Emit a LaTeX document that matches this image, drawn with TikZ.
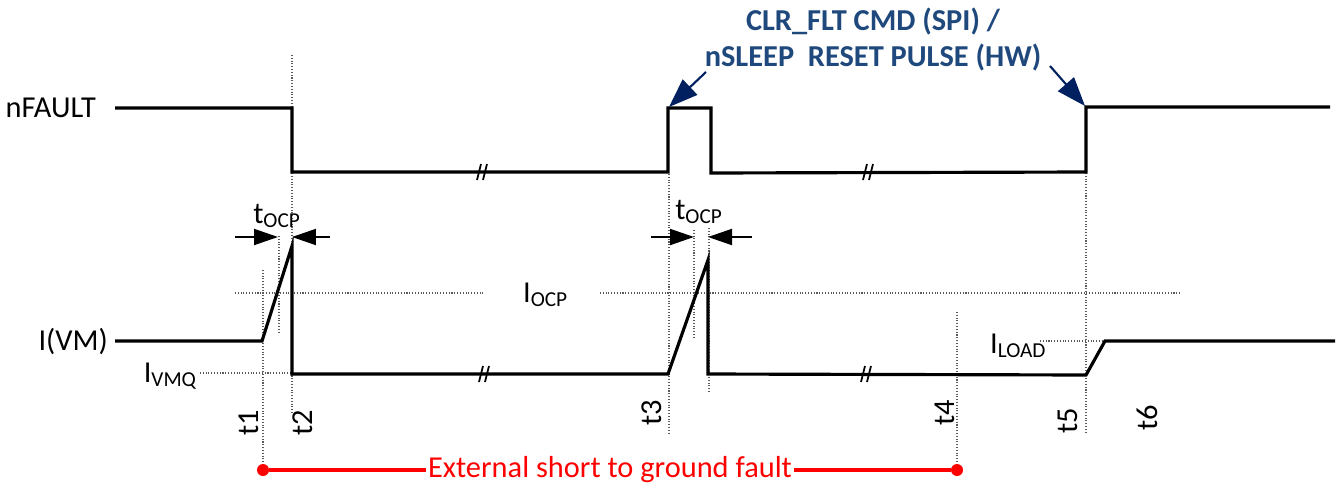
\documentclass[tikz,border=0pt]{standalone}
\usepackage{fontspec}
\setmainfont{Carlito}
\usetikzlibrary{arrows.meta,positioning}
\definecolor{notenavy}{RGB}{31,73,125}
\definecolor{arrownavy}{RGB}{0,32,96}
\definecolor{faultred}{RGB}{255,0,0}
\definecolor{guidegray}{RGB}{90,90,90}

\begin{document}
\begin{tikzpicture}[x=0.02cm,y=-0.02cm,>=Latex,
  font=\fontsize{17.3}{20.5}\selectfont,
  trace/.style={line width=1.8pt,line join=miter},
  guide/.style={guidegray,densely dotted,line width=0.6pt},
  brk/.style={line width=1pt},
  tlabel/.style={rotate=90,inner sep=1pt},
  sig/.style={inner sep=1pt},
  span/.style={-{Triangle[length=0.48cm,width=0.32cm]},line width=1.1pt},
  callout/.style={-{Triangle[length=0.58cm,width=0.42cm]},arrownavy,line width=1.2pt}]
  \useasboundingbox (0,0) rectangle (1338,487);

  % dotted guide lines
  \draw[guide] (292,55) -- (292,414);
  \draw[guide] (263,270) -- (263,470);
  \draw[guide] (279,236) -- (279,333);
  \draw[guide] (669,174) -- (669,435);
  \draw[guide] (694,230) -- (694,338);
  \draw[guide] (709,228) -- (709,392);
  \draw[guide] (957,312) -- (957,470);
  \draw[guide] (1086,173) -- (1086,432);
  \draw[guide] (235,293) -- (485,293);
  \draw[guide] (600,293) -- (1180,293);
  \draw[guide] (200,373) -- (292,373);
  \draw[guide] (1040,341) -- (1105,341);

  % waveforms
  \draw[trace] (115,108) -- (292,108) -- (292,172) -- (668,172) -- (668,108)
    -- (711,108) -- (711,173) -- (1086,172) -- (1086,107) -- (1330,107);
  \draw[trace] (115,341) -- (262,341) -- (292,246) -- (292,374) -- (668,374)
    -- (708,260) -- (708,374) -- (1086,375) -- (1105,341) -- (1335,341);
  \foreach \bx/\by in {482/172,868/172,484/374,866/374}
    \draw[brk] (\bx-5,\by+8) -- (\bx-1,\by-8) (\bx+1,\by+8) -- (\bx+5,\by-8);

  % signal names and levels
  \node[sig,anchor=east] (nfault) at (98,108) {nFAULT};
  \node[sig,anchor=east] (ivm) at (110,341) {I(VM)};
  \node[sig,anchor=east] (ivmq) at (199,376) {I\textsubscript{VMQ}};
  \node[sig,anchor=west] (iocp) at (521,295) {I\textsubscript{OCP}};
  \node[sig,anchor=west] (iload) at (988,346) {I\textsubscript{LOAD}};

  % OCP deglitch time
  \node[sig,anchor=south] (tocpa) at (277,230) {t\textsubscript{OCP}};
  \node[sig,anchor=south] (tocpb) at (699,226) {t\textsubscript{OCP}};
  \coordinate (la) at (235,237); \coordinate (lat) at (278,237);
  \coordinate (ra) at (330,237); \coordinate (rat) at (292,237);
  \coordinate (lb) at (651,237); \coordinate (lbt) at (694,237);
  \coordinate (rb) at (752,237); \coordinate (rbt) at (708,237);
  \draw[span] (la) -- (lat);
  \draw[span] (ra) -- (rat);
  \draw[span] (lb) -- (lbt);
  \draw[span] (rb) -- (rbt);

  % time marks
  \node[tlabel] (t1) at (249,423) {t1};
  \node[tlabel] (t2) at (303,423) {t2};
  \node[tlabel] (t3) at (652,413) {t3};
  \node[tlabel] (t4) at (945,413) {t4};
  \node[tlabel] (t5) at (1068,421) {t5};
  \node[tlabel] (t6) at (1147,418) {t6};

  % clear fault note
  \node[sig,align=center,notenavy,font=\fontsize{17.3}{20.5}\selectfont\bfseries] (clr) at (873,40)
    {CLR\_FLT CMD (SPI) /\\nSLEEP\ \ RESET PULSE (HW)};
  \coordinate (ca) at (706,72); \coordinate (cat) at (669,107);
  \coordinate (cb) at (1050,66); \coordinate (cbt) at (1085,106);
  \draw[callout] (ca) -- (cat);
  \draw[callout] (cb) -- (cbt);

  % fault duration
  \node[circle,fill=faultred,inner sep=0pt,minimum size=0.24cm] (fs) at (263,470) {};
  \node[circle,fill=faultred,inner sep=0pt,minimum size=0.24cm] (fe) at (957,470) {};
  \node[sig,text=faultred] (fault) at (610,470) {External short to ground fault};
  \draw[faultred,line width=2.3pt] (fs) -- (fault) (fault) -- (fe);
\end{tikzpicture}
\end{document}
